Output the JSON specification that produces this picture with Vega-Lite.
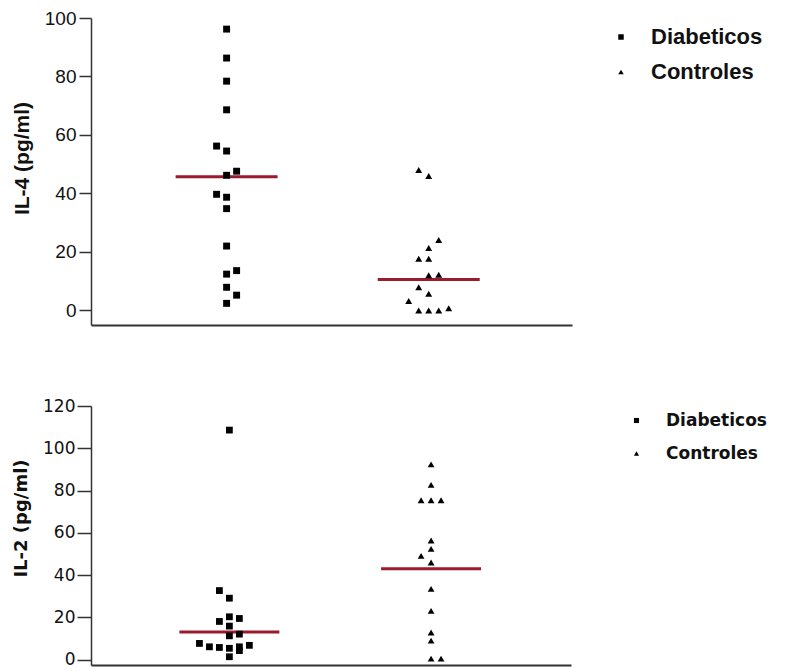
{
  "$schema": "https://vega.github.io/schema/vega-lite/v6.json",
  "background": "white",
  "padding": {"left": 11, "top": 9, "right": 0, "bottom": 0},
  "spacing": 72,
  "config": {
    "view": {"stroke": null},
    "axis": {"grid": false, "domainColor": "#333333", "tickColor": "#333333", "domainWidth": 1.5, "tickWidth": 1.5, "labelColor": "#111111", "titleColor": "#111111"}
  },
  "datasets": {
    "il4": [
      {"group": "Diabeticos", "slot": 0, "value": 96.2},
      {"group": "Diabeticos", "slot": 0, "value": 86.3},
      {"group": "Diabeticos", "slot": 0, "value": 78.4},
      {"group": "Diabeticos", "slot": 0, "value": 68.6},
      {"group": "Diabeticos", "slot": -1, "value": 56.2},
      {"group": "Diabeticos", "slot": 0, "value": 54.5},
      {"group": "Diabeticos", "slot": 1, "value": 47.6},
      {"group": "Diabeticos", "slot": 0, "value": 46.2},
      {"group": "Diabeticos", "slot": -1, "value": 39.7},
      {"group": "Diabeticos", "slot": 0, "value": 38.7},
      {"group": "Diabeticos", "slot": 0, "value": 34.8},
      {"group": "Diabeticos", "slot": 0, "value": 22.0},
      {"group": "Diabeticos", "slot": 1, "value": 13.6},
      {"group": "Diabeticos", "slot": 0, "value": 12.4},
      {"group": "Diabeticos", "slot": 0, "value": 7.9},
      {"group": "Diabeticos", "slot": 1, "value": 5.2},
      {"group": "Diabeticos", "slot": 0, "value": 2.4},
      {"group": "Controles", "slot": -1, "value": 48.0},
      {"group": "Controles", "slot": 0, "value": 46.0},
      {"group": "Controles", "slot": 1, "value": 24.1},
      {"group": "Controles", "slot": 0, "value": 21.3},
      {"group": "Controles", "slot": -1, "value": 17.7},
      {"group": "Controles", "slot": 0, "value": 17.7},
      {"group": "Controles", "slot": 0, "value": 12.0},
      {"group": "Controles", "slot": 1, "value": 12.2},
      {"group": "Controles", "slot": -1, "value": 7.9},
      {"group": "Controles", "slot": 0, "value": 5.7},
      {"group": "Controles", "slot": -2, "value": 3.2},
      {"group": "Controles", "slot": -1, "value": 0.0},
      {"group": "Controles", "slot": 0, "value": 0.0},
      {"group": "Controles", "slot": 1, "value": 0.0},
      {"group": "Controles", "slot": 2, "value": 0.7}
    ],
    "il4med": [
      {"group": "Diabeticos", "median": 45.7},
      {"group": "Controles", "median": 10.6}
    ],
    "il2": [
      {"group": "Diabeticos", "slot": 0, "value": 108.6},
      {"group": "Diabeticos", "slot": -1, "value": 32.7},
      {"group": "Diabeticos", "slot": 0, "value": 29.1},
      {"group": "Diabeticos", "slot": 0, "value": 20.3},
      {"group": "Diabeticos", "slot": 1, "value": 19.5},
      {"group": "Diabeticos", "slot": -1, "value": 18.1},
      {"group": "Diabeticos", "slot": 0, "value": 15.9},
      {"group": "Diabeticos", "slot": 0, "value": 11.3},
      {"group": "Diabeticos", "slot": 1, "value": 12.1},
      {"group": "Diabeticos", "slot": -3, "value": 7.7},
      {"group": "Diabeticos", "slot": -2, "value": 6.1},
      {"group": "Diabeticos", "slot": -1, "value": 5.8},
      {"group": "Diabeticos", "slot": 0, "value": 5.4},
      {"group": "Diabeticos", "slot": 1, "value": 6.1},
      {"group": "Diabeticos", "slot": 1, "value": 4.3},
      {"group": "Diabeticos", "slot": 2, "value": 6.8},
      {"group": "Diabeticos", "slot": 0, "value": 1.4},
      {"group": "Controles", "slot": 0, "value": 92.4},
      {"group": "Controles", "slot": 0, "value": 82.7},
      {"group": "Controles", "slot": -1, "value": 75.4},
      {"group": "Controles", "slot": 0, "value": 75.4},
      {"group": "Controles", "slot": 1, "value": 75.4},
      {"group": "Controles", "slot": 0, "value": 56.4},
      {"group": "Controles", "slot": 0, "value": 52.4},
      {"group": "Controles", "slot": -1, "value": 49.1},
      {"group": "Controles", "slot": 0, "value": 46.0},
      {"group": "Controles", "slot": 0, "value": 33.5},
      {"group": "Controles", "slot": 0, "value": 23.1},
      {"group": "Controles", "slot": 0, "value": 12.9},
      {"group": "Controles", "slot": 0, "value": 9.0},
      {"group": "Controles", "slot": 0, "value": 0.5},
      {"group": "Controles", "slot": 1, "value": 0.5}
    ],
    "il2med": [
      {"group": "Diabeticos", "median": 13.1},
      {"group": "Controles", "median": 43.0}
    ]
  },
  "vconcat": [
    {
      "width": 481,
      "height": 307,
      "layer": [
        {
          "data": {"name": "il4med"},
          "mark": {"type": "tick", "color": "#9a1a2e", "opacity": 1, "thickness": 3, "size": 102},
          "encoding": {
            "x": {"field": "group", "type": "nominal", "scale": {"domain": ["Diabeticos", "Controles"], "paddingInner": 0, "paddingOuter": 0.19, "align": 0.45}, "axis": {"title": null, "labels": false, "ticks": false, "domain": true, "domainWidth": 2}},
            "y": {"field": "median", "type": "quantitative", "scale": {"domain": [-5, 100], "nice": false, "zero": false}, "axis": {"title": "IL-4 (pg/ml)", "values": [0, 20, 40, 60, 80, 100], "tickSize": 12, "labelFont": "Liberation Sans", "labelFontSize": 19, "labelPadding": 3, "titleFont": "Liberation Sans", "titleFontSize": 21, "titleFontWeight": "bold", "titlePadding": 12, "titleY": 140}}
          }
        },
        {
          "data": {"name": "il4"},
          "mark": {"type": "point", "filled": true, "color": "black", "opacity": 1, "size": 48},
          "encoding": {
            "x": {"field": "group", "type": "nominal"},
            "xOffset": {"field": "slot", "type": "quantitative", "scale": {"domain": [-10.1, 10.1]}},
            "y": {"field": "value", "type": "quantitative"},
            "shape": {
              "field": "group", "type": "nominal",
              "scale": {"domain": ["Diabeticos", "Controles"], "range": ["square", "triangle-up"]},
              "legend": {"orient": "none", "legendX": 519, "legendY": 8, "title": null, "padding": 0, "labelFont": "Liberation Sans", "labelFontSize": 22, "labelFontWeight": "bold", "labelColor": "#111111", "labelOffset": 19, "symbolSize": 30, "rowPadding": 13, "symbolFillColor": "black", "symbolStrokeColor": "black"}
            }
          }
        }
      ]
    },
    {
      "width": 480,
      "height": 259,
      "layer": [
        {
          "data": {"name": "il2med"},
          "mark": {"type": "tick", "color": "#9a1a2e", "opacity": 1, "thickness": 3, "size": 100},
          "encoding": {
            "x": {"field": "group", "type": "nominal", "scale": {"domain": ["Diabeticos", "Controles"], "paddingInner": 0, "paddingOuter": 0.19, "align": 0.49}, "axis": {"title": null, "labels": false, "ticks": false, "domain": true, "domainWidth": 2}},
            "y": {"field": "median", "type": "quantitative", "scale": {"domain": [-2.5, 120], "nice": false, "zero": false}, "axis": {"title": "IL-2 (pg/ml)", "values": [0, 20, 40, 60, 80, 100, 120], "tickSize": 14, "labelFont": "DejaVu Sans", "labelFontSize": 17, "labelPadding": 2, "titleFont": "DejaVu Sans", "titleFontSize": 18, "titleFontWeight": "bold", "titlePadding": 12, "titleY": 112}}
          }
        },
        {
          "data": {"name": "il2"},
          "mark": {"type": "point", "filled": true, "color": "black", "opacity": 1, "size": 46},
          "encoding": {
            "x": {"field": "group", "type": "nominal"},
            "xOffset": {"field": "slot", "type": "quantitative", "scale": {"domain": [-10.1, 10.1]}},
            "y": {"field": "value", "type": "quantitative"},
            "shape": {
              "field": "group", "type": "nominal",
              "scale": {"domain": ["Diabeticos", "Controles"], "range": ["square", "triangle-up"]},
              "legend": {"orient": "none", "legendX": 537, "legendY": 6, "title": null, "padding": 0, "labelFont": "DejaVu Sans", "labelFontSize": 17, "labelFontWeight": "bold", "labelColor": "#111111", "labelOffset": 21, "symbolSize": 26, "rowPadding": 15, "symbolFillColor": "black", "symbolStrokeColor": "black"}
            }
          }
        }
      ]
    }
  ],
  "resolve": {"scale": {"x": "independent", "y": "independent", "shape": "independent", "xOffset": "independent"}, "legend": {"shape": "independent"}}
}
